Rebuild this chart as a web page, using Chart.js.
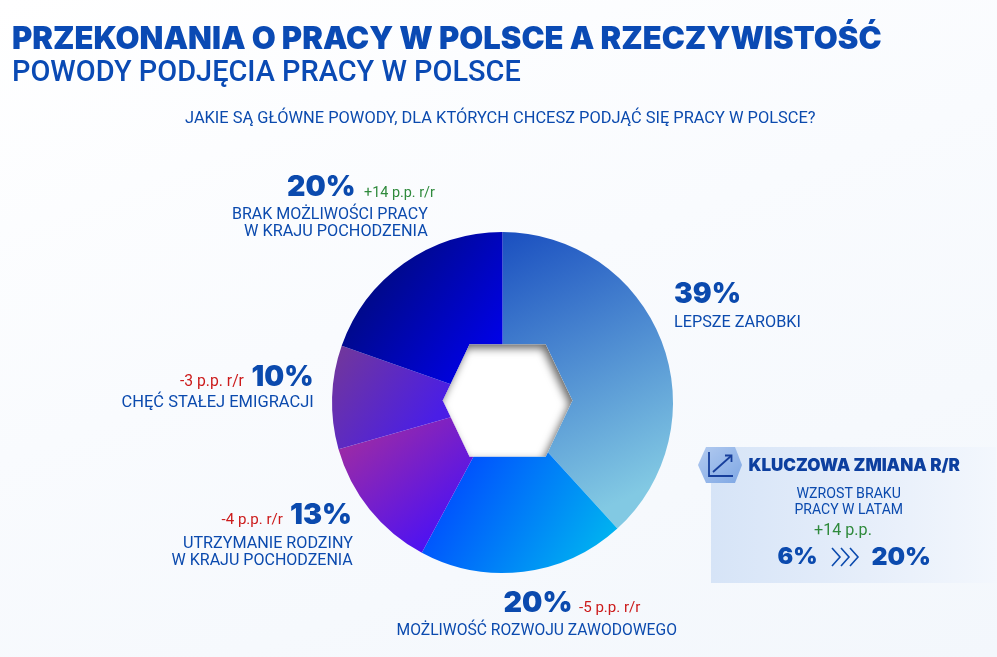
<!DOCTYPE html>
<html lang="pl">
<head>
<meta charset="utf-8">
<script src="https://cdn.jsdelivr.net/npm/chart.js@4.4.1/dist/chart.umd.min.js"></script>
<style>
  html, body { margin: 0; padding: 0; }
  body {
    width: 997px; height: 657px; overflow: hidden; position: relative;
    background: linear-gradient(160deg, #ffffff 0%, #f9fbfe 45%, #f3f7fc 100%);
    font-family: "Roboto", "Inter", sans-serif;
  }
  #chart { position: absolute; left: 0; top: 0; }
  .t { position: absolute; white-space: nowrap; line-height: 1; }
  #box {
    position: absolute; left: 711px; top: 447px; width: 285px; height: 136px;
    background: linear-gradient(90deg, #d6e4f7 0%, #e6eefa 55%, #f3f7fd 100%);
  }
  #hexicon { position: absolute; left: 698px; top: 446px; }
  #chev { position: absolute; left: 831px; top: 547px; }
</style>
</head>
<body>
<div id="box"></div>
<svg id="hexicon" width="46" height="38" viewBox="0 0 46 38">
  <defs>
    <linearGradient id="hg" x1="0" y1="0" x2="1" y2="1">
      <stop offset="0" stop-color="#b3cbf0"/>
      <stop offset="1" stop-color="#7ea7e4"/>
    </linearGradient>
  </defs>
  <polygon points="8,1 37,1 44,19 37,37 8,37 0,19" fill="url(#hg)"/>
  <polyline points="11,6 11,30 35,30" fill="none" stroke="#173f9c" stroke-width="1.8"/>
  <line x1="15" y1="26" x2="33" y2="10" stroke="#173f9c" stroke-width="1.8"/>
  <polyline points="27,9.5 33.5,9.5 33.5,16" fill="none" stroke="#173f9c" stroke-width="1.8"/>
</svg>
<svg id="chev" width="31" height="20" viewBox="0 0 31 20">
  <polyline points="1,1 9,10 1,19" fill="none" stroke="#0b4aae" stroke-width="1.6"/>
  <polyline points="10,1 18,10 10,19" fill="none" stroke="#0b4aae" stroke-width="1.6"/>
  <polyline points="19,1 27,10 19,19" fill="none" stroke="#0b4aae" stroke-width="1.6"/>
</svg>
<canvas id="chart" width="997" height="657"></canvas>
<script>
// ---------- DATA ----------
const categories = [
  "LEPSZE ZAROBKI",
  "MOŻLIWOŚĆ ROZWOJU ZAWODOWEGO",
  "UTRZYMANIE RODZINY W KRAJU POCHODZENIA",
  "CHĘĆ STAŁEJ EMIGRACJI",
  "BRAK MOŻLIWOŚCI PRACY W KRAJU POCHODZENIA"
];
const labelLines = [
  ["LEPSZE ZAROBKI"],
  ["MOŻLIWOŚĆ ROZWOJU ZAWODOWEGO"],
  ["UTRZYMANIE RODZINY", "W KRAJU POCHODZENIA"],
  ["CHĘĆ STAŁEJ EMIGRACJI"],
  ["BRAK MOŻLIWOŚCI PRACY", "W KRAJU POCHODZENIA"]
];
const shares = [39, 20, 13, 10, 20];          // %
const changesPP = [null, -5, -4, -3, 14];      // p.p. r/r
const keyChangeFrom = 6;                       // %
const keyChangeTo = 20;                        // %
const keyChangeDelta = 14;                     // p.p.

const titleText = "PRZEKONANIA O PRACY W POLSCE A RZECZYWISTOŚĆ";
const subtitleText = "POWODY PODJĘCIA PRACY W POLSCE";
const questionText = "JAKIE SĄ GŁÓWNE POWODY, DLA KTÓRYCH CHCESZ PODJĄĆ SIĘ PRACY W POLSCE?";

// ---------- STYLE ----------
const BLUE = "#0b4aae";
const GREEN = "#2f8a3c";
const RED = "#cc1b1b";
const HEAVY = '"Inter", "Roboto", sans-serif';
const REG = '"Roboto", "Inter", sans-serif';

// per-slice gradient (points in radius units relative to pie centre)
const sliceGradients = [
  { p0: [0.0, -1.0], p1: [0.75, 0.55], c0: "#1a4fc0", c1: "#82c9e3" },
  { p0: [-0.3, 0.3], p1: [0.6, 0.85], c0: "#0048ff", c1: "#00b2f0" },
  { p0: [-0.95, 0.25], p1: [-0.45, 0.85], c0: "#9c2ba5", c1: "#4e12f2" },
  { p0: [-0.95, -0.3], p1: [-0.4, 0.1], c0: "#70369e", c1: "#4a1ee6" },
  { p0: [-0.75, -0.75], p1: [0.0, -0.2], c0: "#000a86", c1: "#0000f2" }
];

function sliceColor(ctx) {
  const chart = ctx.chart;
  const a = chart.chartArea;
  const g = sliceGradients[ctx.dataIndex];
  if (!a || !g) return g ? g.c0 : "#1a4fc0";
  const cx = (a.left + a.right) / 2, cy = (a.top + a.bottom) / 2;
  const r = Math.min(a.right - a.left, a.bottom - a.top) / 2;
  const grad = chart.ctx.createLinearGradient(
    cx + g.p0[0] * r, cy + g.p0[1] * r, cx + g.p1[0] * r, cy + g.p1[1] * r);
  grad.addColorStop(0, g.c0);
  grad.addColorStop(1, g.c1);
  return grad;
}

// hexagonal hole with inner shadow
const hexHole = {
  id: "hexHole",
  afterDatasetsDraw(chart) {
    const arc = chart.getDatasetMeta(0).data[0];
    if (!arc) return;
    const r = arc.outerRadius;
    const cx = arc.x + 0.03 * r, cy = arc.y - 0.012 * r;
    const hw = 0.38 * r, te = 0.223 * r, hh = 0.33 * r;
    const pts = [[cx - te, cy - hh], [cx + te, cy - hh], [cx + hw, cy],
                 [cx + te, cy + hh], [cx - te, cy + hh], [cx - hw, cy]];
    const c = chart.ctx;
    const path = () => { c.beginPath(); pts.forEach((p, i) => i ? c.lineTo(p[0], p[1]) : c.moveTo(p[0], p[1])); c.closePath(); };
    c.save();
    path();
    c.fillStyle = "#ffffff";
    c.fill();
    c.clip();
    c.beginPath();
    c.rect(cx - 3 * r, cy - 3 * r, 6 * r, 6 * r);
    pts.slice().reverse().forEach((p, i) => i ? c.lineTo(p[0], p[1]) : c.moveTo(p[0], p[1]));
    c.closePath();
    c.shadowColor = "rgba(0,0,0,0.6)";
    c.shadowBlur = 8;
    c.shadowOffsetX = -3;
    c.shadowOffsetY = 4;
    c.fillStyle = "#ffffff";
    c.fill("evenodd");
    c.restore();
  }
};

new Chart(document.getElementById("chart"), {
  type: "pie",
  data: {
    labels: categories,
    datasets: [{ data: shares, backgroundColor: sliceColor, borderWidth: 0, hoverOffset: 0 }]
  },
  options: {
    responsive: false,
    animation: false,
    layout: { padding: { left: 332, right: 324, top: 232, bottom: 84 } },
    plugins: { legend: { display: false }, tooltip: { enabled: false } },
    events: []
  },
  plugins: [hexHole]
});

// ---------- TEXT ----------
function fmtChange(v, unit) {
  return (v > 0 ? "+" : "-") + Math.abs(v) + " " + unit;
}
// place text with left edge x1, right edge x2, cap top y
function place(text, x1, x2, capTop, fs, weight, color, family) {
  const d = document.createElement("div");
  d.className = "t";
  d.textContent = text;
  d.style.fontFamily = family;
  d.style.fontWeight = weight;
  d.style.color = color;
  d.style.fontSize = fs + "px";
  document.body.appendChild(d);
  const w = d.getBoundingClientRect().width;
  const nfs = fs * (x2 - x1) / w;
  d.style.fontSize = nfs + "px";
  d.style.left = x1 + "px";
  d.style.top = (capTop - 0.135 * nfs) + "px";
  return d;
}

function build() {
  place(titleText, 12, 882, 26, 30, 900, "#0a4ab4", HEAVY);
  place(subtitleText, 12, 521, 61, 25, 500, "#0a4ab4", REG);
  place(questionText, 185, 816, 112, 14, 400, BLUE, REG);

  // 39% - LEPSZE ZAROBKI
  place(shares[0] + "%", 674, 741, 283, 30, 900, BLUE, HEAVY);
  place(labelLines[0][0], 674, 801, 316.5, 14, 400, BLUE, REG);

  // 20% - BRAK MOŻLIWOŚCI
  place(shares[4] + "%", 287, 355.5, 175.5, 30, 900, BLUE, HEAVY);
  place(fmtChange(changesPP[4], "p.p. r/r"), 364, 435, 188, 13, 400, GREEN, REG);
  place(labelLines[4][0], 232, 428, 208.5, 14, 400, BLUE, REG);
  place(labelLines[4][1], 244, 428, 225.5, 14, 400, BLUE, REG);

  // 10% - CHĘĆ STAŁEJ EMIGRACJI
  place(shares[3] + "%", 251.5, 313.5, 365.5, 30, 900, BLUE, HEAVY);
  place(fmtChange(changesPP[3], "p.p. r/r"), 180, 244, 375.5, 13, 400, RED, REG);
  place(labelLines[3][0], 121.5, 314, 396.5, 14, 400, BLUE, REG);

  // 13% - UTRZYMANIE RODZINY
  place(shares[2] + "%", 290, 352, 504, 30, 900, BLUE, HEAVY);
  place(fmtChange(changesPP[2], "p.p. r/r"), 221.5, 283, 514, 13, 400, RED, REG);
  place(labelLines[2][0], 183, 353, 537, 14, 400, BLUE, REG);
  place(labelLines[2][1], 171.5, 353, 554, 14, 400, BLUE, REG);

  // 20% - MOŻLIWOŚĆ ROZWOJU
  place(shares[1] + "%", 503.5, 572.5, 592, 30, 900, BLUE, HEAVY);
  place(fmtChange(changesPP[1], "p.p. r/r"), 579, 640.5, 602.5, 13, 400, RED, REG);
  place(labelLines[1][0], 396.5, 677, 624.5, 14, 400, BLUE, REG);

  // key change box
  place("KLUCZOWA ZMIANA R/R", 748.5, 960, 459, 18, 900, "#0d3f9f", HEAVY);
  place("WZROST BRAKU", 796.5, 901, 488, 14, 400, BLUE, REG);
  place("PRACY W LATAM", 794.5, 903, 503.5, 14, 400, BLUE, REG);
  place(fmtChange(keyChangeDelta, "p.p."), 814, 872, 524.5, 14, 400, GREEN, REG);
  place(keyChangeFrom + "%", 777.5, 817.5, 547.5, 25, 900, BLUE, HEAVY);
  place(keyChangeTo + "%", 871.5, 931, 547.5, 25, 900, BLUE, HEAVY);
}
if (document.fonts && document.fonts.ready) document.fonts.ready.then(build); else build();
</script>
</body>
</html>
